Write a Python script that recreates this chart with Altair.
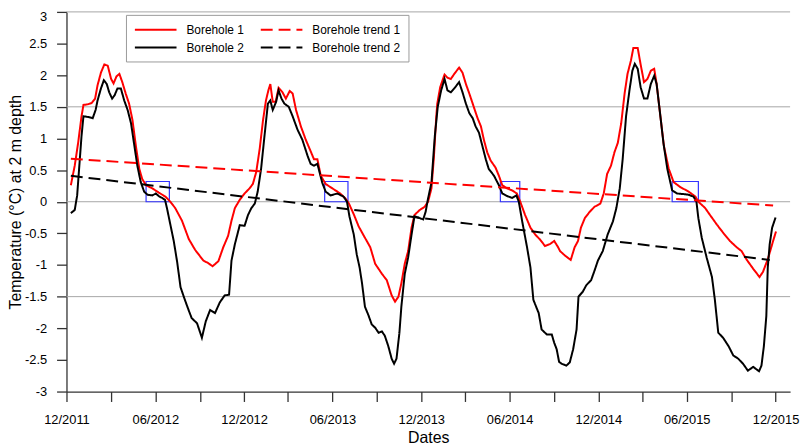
import altair as alt
import pandas as pd

FONT = "Liberation Sans"
START = pd.Timestamp("2011-12-01")

# days since 2011-12-01 and temperatures
b1_days = [9, 17, 24, 31, 35, 44, 52, 59, 64, 71,
           78, 85, 92, 97, 103, 109, 115, 122, 129, 136,
           143, 150, 156, 164, 177, 190, 204, 214, 224, 238,
           252, 265, 282, 292, 301, 313, 323, 333, 340, 347,
           357, 367, 377, 384, 391, 398, 405, 411, 416, 420,
           425, 431, 437, 445, 452, 460, 466, 473, 483, 493,
           503, 510, 517, 524, 534, 544, 564, 575, 582, 592,
           602, 615, 626, 636, 650, 660, 670, 677, 684, 690,
           697, 704, 711, 717, 728, 738, 745, 752, 757, 762,
           764, 770, 779, 785, 792, 799, 809, 816, 823, 830,
           837, 847, 854, 860, 867, 874, 884, 891, 898, 908,
           918, 928, 935, 945, 956, 966, 976, 986, 996, 1005,
           1013, 1017, 1027, 1039, 1047, 1054, 1060, 1068, 1078, 1088,
           1100, 1107, 1114, 1122, 1129, 1136, 1143, 1150, 1156, 1163,
           1168, 1177, 1183, 1190, 1197, 1204, 1211, 1216, 1223, 1231,
           1241, 1251, 1265, 1282, 1296, 1302, 1316, 1326, 1340, 1353,
           1367, 1381, 1391, 1401, 1415, 1428, 1435, 1445, 1456, 1462]
b1_vals = [0.26, 0.57, 0.93, 1.35, 1.53, 1.54, 1.56, 1.63, 1.84, 2.04,
           2.17, 2.15, 1.94, 1.87, 1.98, 2.02, 1.89, 1.71, 1.55, 1.29,
           0.88, 0.52, 0.36, 0.26, 0.21, 0.145, 0.08, 0.0, -0.10, -0.30,
           -0.59, -0.76, -0.93, -0.97, -1.02, -0.94, -0.72, -0.54, -0.30, -0.10,
           0.03, 0.13, 0.21, 0.28, 0.47, 0.83, 1.29, 1.60, 1.76, 1.86,
           1.58, 1.58, 1.80, 1.73, 1.63, 1.75, 1.71, 1.45, 1.19, 0.98,
           0.80, 0.67, 0.67, 0.41, 0.28, 0.23, 0.13, 0.05, -0.03, -0.20,
           -0.39, -0.57, -0.72, -0.98, -1.14, -1.24, -1.48, -1.58, -1.50, -1.29,
           -0.98, -0.78, -0.41, -0.21, -0.13, -0.08, 0.0, 0.21, 0.70, 1.35,
           1.55, 1.81, 2.01, 1.96, 1.94, 2.02, 2.12, 2.04, 1.86, 1.71,
           1.55, 1.32, 1.19, 0.98, 0.78, 0.65, 0.54, 0.41, 0.26, 0.21,
           0.18, 0.13, 0.0, -0.21, -0.41, -0.52, -0.60, -0.70, -0.67, -0.62,
           -0.72, -0.78, -0.85, -0.92, -0.72, -0.62, -0.41, -0.26, -0.16, -0.08,
           -0.03, 0.13, 0.44, 0.57, 0.78, 0.93, 1.24, 1.71, 2.02, 2.23,
           2.43, 2.43, 2.17, 1.89, 1.94, 2.07, 2.10, 1.86, 1.40, 0.88,
           0.52, 0.31, 0.23, 0.16, 0.08, 0.0, -0.10, -0.21, -0.36, -0.49,
           -0.62, -0.72, -0.78, -0.91, -1.06, -1.19, -1.11, -0.91, -0.62, -0.47]

b2_days = [9, 17, 22, 26, 31, 35, 44, 54, 60, 64,
           71, 77, 83, 88, 94, 99, 105, 112, 119, 126,
           133, 139, 146, 153, 160, 167, 177, 184, 190, 197,
           203, 207, 214, 221, 228, 235, 243, 252, 258, 269,
           279, 287, 296, 306, 316, 326, 335, 340, 347, 357,
           367, 374, 381, 388, 394, 401, 408, 415, 420, 425,
           432, 437, 443, 449, 458, 466, 476, 486, 497, 503,
           510, 517, 527, 534, 544, 558, 571, 578, 583, 592,
           598, 604, 609, 615, 622, 629, 636, 643, 650, 656,
           663, 670, 675, 680, 686, 690, 697, 704, 711, 717,
           728, 735, 740, 745, 752, 759, 765, 772, 779, 785,
           792, 801, 809, 816, 823, 830, 837, 843, 850, 857,
           864, 870, 881, 891, 898, 908, 918, 927, 932, 939,
           949, 956, 962, 973, 979, 990, 1000, 1005, 1010, 1015,
           1020, 1030, 1037, 1044, 1051, 1055, 1064, 1071, 1081, 1088,
           1095, 1105, 1115, 1126, 1133, 1140, 1146, 1153, 1160, 1166,
           1171, 1177, 1183, 1190, 1197, 1204, 1211, 1216, 1223, 1230,
           1238, 1248, 1258, 1272, 1282, 1292, 1298, 1302, 1309, 1319,
           1330, 1336, 1343, 1353, 1364, 1374, 1384, 1394, 1404, 1415,
           1427, 1432, 1437, 1442, 1445, 1449, 1454, 1461]
b2_vals = [-0.18, -0.13, 0.10, 0.52, 1.04, 1.35, 1.34, 1.32, 1.45, 1.60,
           1.79, 1.92, 1.86, 1.73, 1.63, 1.68, 1.79, 1.79, 1.60, 1.45,
           1.24, 0.93, 0.57, 0.31, 0.16, 0.11, 0.10, 0.13, 0.09, 0.06,
           0.03, -0.10, -0.36, -0.62, -0.95, -1.35, -1.53, -1.72, -1.84, -1.92,
           -2.15, -1.89, -1.71, -1.76, -1.59, -1.48, -1.47, -0.93, -0.67, -0.37,
           -0.38, -0.21, -0.10, -0.03, 0.16, 0.52, 1.04, 1.55, 1.60, 1.45,
           1.58, 1.76, 1.63, 1.55, 1.50, 1.35, 1.14, 0.98, 0.72, 0.60,
           0.57, 0.60, 0.30, 0.16, 0.10, 0.13, 0.08, 0.0, -0.23, -0.52,
           -0.83, -1.04, -1.29, -1.66, -1.79, -1.94, -1.99, -2.07, -2.05, -2.12,
           -2.28, -2.48, -2.56, -2.48, -2.07, -1.66, -1.14, -0.88, -0.52, -0.23,
           -0.26, -0.28, -0.16, 0.05, 0.30, 1.04, 1.50, 1.76, 1.94, 1.76,
           1.73, 1.81, 1.89, 1.73, 1.55, 1.40, 1.32, 1.19, 1.09, 0.88,
           0.67, 0.52, 0.41, 0.26, 0.13, 0.09, 0.06, 0.10, 0.0, -0.31,
           -0.72, -1.04, -1.55, -1.76, -2.02, -2.10, -2.10, -2.23, -2.33, -2.53,
           -2.56, -2.59, -2.54, -2.33, -2.02, -1.50, -1.42, -1.32, -1.24, -1.09,
           -0.93, -0.78, -0.52, -0.31, -0.10, 0.21, 0.67, 1.35, 1.76, 2.07,
           2.18, 2.10, 1.81, 1.63, 1.63, 1.86, 1.99, 1.86, 1.40, 0.93,
           0.52, 0.18, 0.13, 0.12, 0.11, 0.08, 0.0, -0.26, -0.57, -0.88,
           -1.19, -1.55, -2.07, -2.15, -2.28, -2.43, -2.48, -2.56, -2.67, -2.61,
           -2.68, -2.59, -2.28, -1.81, -1.04, -0.67, -0.41, -0.25]

trend1_days = [9, 1456]
trend1_vals = [0.68, -0.06]
trend2_days = [9, 1449]
trend2_vals = [0.41, -0.92]

box_start_days = [164, 532, 894, 1248]
box_end_days = [212, 580, 934, 1302]
box_low = [0.0, 0.0, 0.0, 0.0]
box_high = [0.32, 0.32, 0.32, 0.32]

grid_vals = [-1.5, 0, 1.5, 3]
y_ticks = [-3, -2.5, -2, -1.5, -1, -0.5, 0, 0.5, 1, 1.5, 2, 2.5, 3]
x_tick_months = [(2011, 12), (2012, 3), (2012, 6), (2012, 9), (2012, 12),
                 (2013, 3), (2013, 6), (2013, 9), (2013, 12),
                 (2014, 3), (2014, 6), (2014, 9), (2014, 12),
                 (2015, 3), (2015, 6), (2015, 9), (2015, 12)]

names = ["Borehole 1", "Borehole 2", "Borehole trend 1", "Borehole trend 2"]
colors = ["#ff0000", "#000000", "#ff0000", "#000000"]
dashes = [[1, 0], [1, 0], [12, 6], [12, 6]]


def to_date(days):
    return [(START + pd.Timedelta(days=int(d))).strftime("%Y-%m-%d") for d in days]


frames = []
for name, d, v in [("Borehole 1", b1_days, b1_vals),
                   ("Borehole 2", b2_days, b2_vals),
                   ("Borehole trend 1", trend1_days, trend1_vals),
                   ("Borehole trend 2", trend2_days, trend2_vals)]:
    frames.append(pd.DataFrame({"date": to_date(d), "value": v, "series": name}))
lines_df = pd.concat(frames, ignore_index=True)

boxes_df = pd.DataFrame({"start": to_date(box_start_days), "end": to_date(box_end_days),
                         "low": box_low, "high": box_high})
grid_df = pd.DataFrame({"v": grid_vals})

x_scale = alt.Scale(type="utc", domain=[alt.DateTime(year=2011, month=12, date=1, utc=True),
                                        alt.DateTime(year=2015, month=12, date=31, utc=True)])
y_scale = alt.Scale(domain=[-3, 3], nice=False, zero=False)

x_axis = alt.Axis(
    values=[alt.DateTime(year=y, month=m, date=1, utc=True) for y, m in x_tick_months],
    labelExpr="utcmonth(datum.value) % 6 == 5 ? utcFormat(datum.value, '%m/%Y') : ''",
    grid=False, labelOverlap=False, labelFlush=False,
    tickSize=10, tickColor="#333333", tickWidth=1.3,
    domainColor="#333333", domainWidth=1.3,
    labelFont=FONT, labelFontSize=13, labelColor="black", labelPadding=12,
    title="Dates", titleFont=FONT, titleFontSize=16, titleFontWeight="normal",
    titleColor="black", titleY=51, titleBaseline="alphabetic",
)
y_axis = alt.Axis(
    values=y_ticks, labelExpr="'' + datum.value",
    grid=False, labelFlush=False,
    tickSize=10, tickColor="#333333", tickWidth=1.3,
    domainColor="#333333", domainWidth=1.3,
    labelFont=FONT, labelFontSize=13, labelColor="black", labelPadding=10,
    labelOffset={"condition": {"test": "datum.value == 3", "value": 5}, "value": 0},
    title="Temperature (°C) at 2 m depth", titleFont=FONT, titleFontSize=16,
    titleFontWeight="normal", titleColor="black", titleX=-46, titleAngle=270,
    titleBaseline="alphabetic",
)

legend = alt.Legend(
    title=None, orient="none", legendX=60, legendY=3, columns=2,
    symbolType="M-1,0H6", symbolSize=144, symbolStrokeWidth=2,
    labelFont=FONT, labelFontSize=12, labelColor="black", labelOffset=39,
    padding=8, rowPadding=5, columnPadding=12,
    strokeColor="#9a9a9a", fillColor="white",
)

grid = alt.Chart(grid_df).mark_rule(color="#a6a6a6", strokeWidth=1).encode(
    y=alt.Y("v:Q", scale=y_scale, axis=y_axis)
)

boxes = alt.Chart(boxes_df).mark_rect(fillOpacity=0, stroke="#3333ff", strokeWidth=1.2).encode(
    x=alt.X("start:T", scale=x_scale, axis=x_axis),
    x2="end:T",
    y=alt.Y("low:Q", scale=y_scale, axis=y_axis),
    y2="high:Q",
)

lines = alt.Chart(lines_df).mark_line(strokeWidth=2).encode(
    x=alt.X("date:T", scale=x_scale, axis=x_axis),
    y=alt.Y("value:Q", scale=y_scale, axis=y_axis),
    color=alt.Color("series:N", scale=alt.Scale(domain=names, range=colors), legend=legend),
    strokeDash=alt.StrokeDash("series:N", scale=alt.Scale(domain=names, range=dashes), legend=legend),
)

chart = alt.layer(grid, boxes, lines).properties(
    width=730, height=383,
    autosize=alt.AutoSizeParams(type="none"),
    padding={"left": 59, "top": 2, "right": 11, "bottom": 54},
    background="white",
).configure_view(stroke=None)

chart.save("out.html", embed_options={"renderer": "svg", "actions": False})
